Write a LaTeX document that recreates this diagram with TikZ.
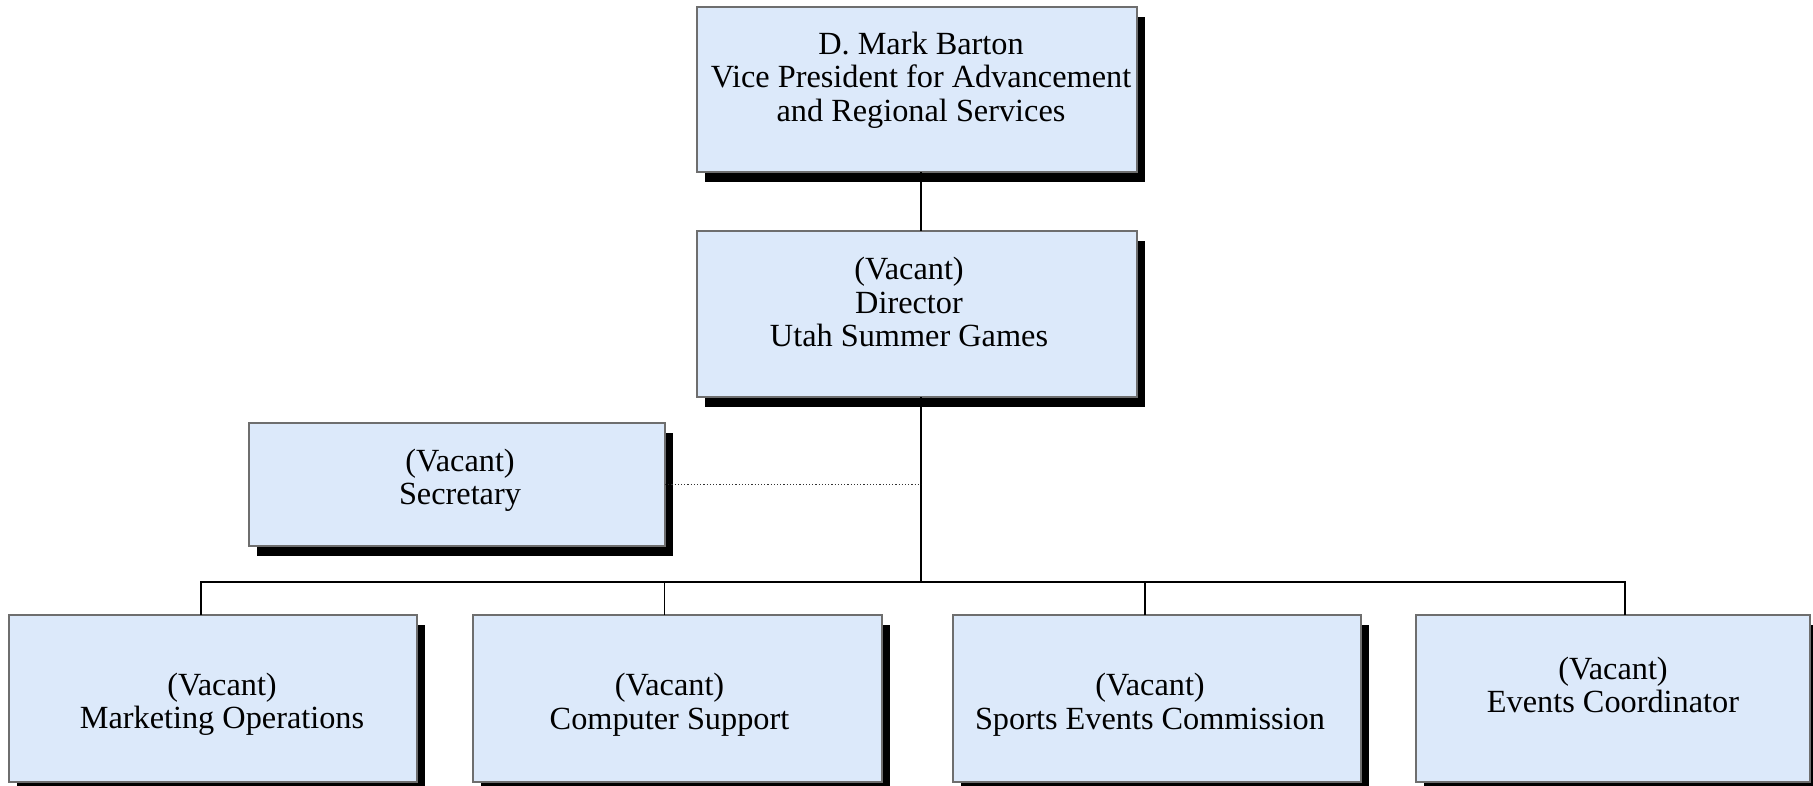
\documentclass[tikz,border=0pt]{standalone}
\usepackage{fontspec}
\setmainfont{Liberation Serif}
\usetikzlibrary{shadows}
\definecolor{boxfill}{RGB}{220,233,250}
\definecolor{boxline}{RGB}{110,110,110}
\begin{document}
\begin{tikzpicture}[x=1pt,y=-1pt,
  orgbox/.style={draw=boxline,line width=1.2pt,fill=boxfill,inner sep=0pt,outer sep=0pt,
    drop shadow={shadow xshift=8pt,shadow yshift=-10pt,fill=black,opacity=1}},
  lbl/.style={align=center,font=\fontsize{32.3}{33.5}\selectfont,inner sep=0pt},
  link/.style={line width=1.6pt,black}]
\useasboundingbox (0,0) rectangle (1813,785);
% boxes
\node[orgbox,minimum width=440pt,minimum height=165pt] (top) at (917,89.5) {};
\node[orgbox,minimum width=440pt,minimum height=166pt] (dir) at (917,314) {};
\node[orgbox,minimum width=416pt,minimum height=123pt] (sec) at (457,484.5) {};
\node[orgbox,minimum width=408pt,minimum height=167pt] (mkt) at (213,698.5) {};
\node[orgbox,minimum width=409pt,minimum height=167pt] (cmp) at (677.5,698.5) {};
\node[orgbox,minimum width=408pt,minimum height=167pt] (spt) at (1157,698.5) {};
\node[orgbox,minimum width=394pt,minimum height=167pt] (evt) at (1613,698.5) {};
% labels
\node[lbl] (topt) at ([xshift=4pt,yshift=9.5pt]top.center) {D. Mark Barton\\Vice President for Advancement\\and Regional Services};
\node[lbl] (dirt) at ([xshift=-8pt,yshift=12pt]dir.center) {(Vacant)\\Director\\Utah Summer Games};
\node[lbl] (sect) at ([xshift=3pt,yshift=4pt]sec.center) {(Vacant)\\Secretary};
\node[lbl] (mktt) at ([xshift=9pt,yshift=-6pt]mkt.center) {(Vacant)\\Marketing Operations};
\node[lbl] (cmpt) at ([xshift=-8pt,yshift=-6pt]cmp.center) {(Vacant)\\Computer Support};
\node[lbl] (sptt) at ([xshift=-7pt,yshift=-6pt]spt.center) {(Vacant)\\Sports Events Commission};
\node[lbl] (evtt) at ([yshift=13.5pt]evt.center) {(Vacant)\\Events Coordinator};
% connectors
\coordinate (bus) at (921,582);
\draw[link] (top.south -| bus) -- (dir.north -| bus);
\draw[link] (dir.south -| bus) -- (bus);
\draw[dotted,line width=1.2pt,black!80] (sec.east) -- (sec.east -| bus);
\draw[link] ([xshift=-12pt]mkt.north) |- (bus);
\draw[link] ([xshift=-13pt]cmp.north) |- (bus);
\draw[link] ([xshift=-12pt]spt.north) |- (bus);
\draw[link] ([xshift=12pt]evt.north) |- (bus);
\end{tikzpicture}
\end{document}
